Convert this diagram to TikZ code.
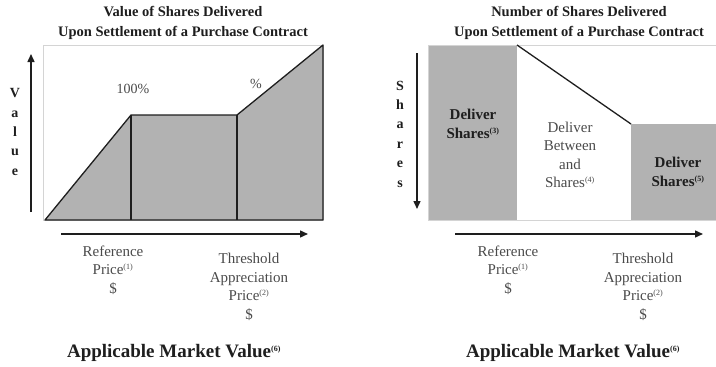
\documentclass[tikz,border=0pt]{standalone}
\usepackage{fontspec}
\setmainfont{Liberation Serif}
\usetikzlibrary{arrows.meta}
\definecolor{areagray}{HTML}{B2B2B2}
\definecolor{txt}{HTML}{4A4A4A}
\definecolor{dark}{HTML}{1E1E1E}
\definecolor{frame}{HTML}{D4D4D4}
\newcommand{\fnote}[1]{\textsuperscript{\fontsize{8}{8}\selectfont(#1)}}
\tikzset{
 title/.style={font=\fontsize{14.5}{20}\selectfont\bfseries, text=dark, align=center, inner sep=0pt},
 lbl/.style={font=\fontsize{15}{18.5}\selectfont, text=txt, align=center, inner sep=0pt},
 blbl/.style={font=\fontsize{15}{18.5}\selectfont\bfseries, text=dark, align=center, inner sep=0pt},
 vert/.style={font=\fontsize{14}{19.4}\selectfont\bfseries, text=dark, align=center, inner sep=0pt},
 axisarrow/.style={-{Triangle[length=8pt,width=7pt]}, line width=1.4pt, draw=dark},
 area/.style={fill=areagray, draw=dark, line width=1.3pt, line join=round},
 edge/.style={draw=dark, line width=1.3pt},
 framebox/.style={draw=frame, line width=0.8pt},
 big/.style={font=\fontsize{19}{22}\selectfont\bfseries, text=dark, inner sep=0pt}
}
\begin{document}
\begin{tikzpicture}[x=1pt,y=-1pt]
\useasboundingbox (0,0) rectangle (716,367);
% ---------- left chart ----------
\draw[framebox] (43,45) rectangle (323,220);
\path[area] (45,220) -- (131,115) -- (237,115) -- (323,45) -- (323,220) -- cycle;
\draw[edge] (131,115) -- (131,220);
\draw[edge] (237,115) -- (237,220);
\coordinate (lvb) at (31,212);
\coordinate (lvt) at (31,54);
\draw[axisarrow] (lvb) -- (lvt);
\node[vert] (lval) at (15,132) {V\\a\\l\\u\\e};
\node[lbl, font=\fontsize{14}{16}\selectfont] (p100) at (133,89) {100\%};
\node[lbl, font=\fontsize{14}{16}\selectfont] (pct) at (256,84) {\%};
\node[title] (ltitle) at (183,23) {Value of Shares Delivered\\Upon Settlement of a Purchase Contract};
\coordinate (lha) at (61,234);
\coordinate (lhb) at (308,234);
\draw[axisarrow] (lha) -- (lhb);
\node[lbl] (lref) at (113,270) {Reference\\Price\fnote{1}\\\$};
\node[lbl] (lthr) at (249,287) {Threshold\\Appreciation\\Price\fnote{2}\\\$};
\node[big] (lamv) at (174,353) {Applicable Market Value\fnote{6}};
% ---------- right chart ----------
\fill[areagray] (428,45) rectangle (517,220);
\fill[areagray] (631,124) rectangle (716,220);
\draw[framebox] (428,220) -- (428,45) -- (716,45);
\draw[framebox] (428,220) -- (716,220);
\draw[edge] (517,45) -- (631,124);
\coordinate (rvt) at (417,53);
\coordinate (rvb) at (417,209);
\draw[axisarrow] (rvt) -- (rvb);
\node[vert] (rsh) at (400,134) {S\\h\\a\\r\\e\\s};
\node[title] (rtitle) at (579,23) {Number of Shares Delivered\\Upon Settlement of a Purchase Contract};
\node[blbl] (d3) at (473,124) {Deliver\\Shares\fnote{3}};
\node[lbl] (d4) at (570,155) {Deliver\\Between\\and\\Shares\fnote{4}};
\node[blbl] (d5) at (678,172) {Deliver\\Shares\fnote{5}};
\coordinate (rha) at (455,234);
\coordinate (rhb) at (703,234);
\draw[axisarrow] (rha) -- (rhb);
\node[lbl] (rref) at (508,270) {Reference\\Price\fnote{1}\\\$};
\node[lbl] (rthr) at (643,287) {Threshold\\Appreciation\\Price\fnote{2}\\\$};
\node[big] (ramv) at (573,353) {Applicable Market Value\fnote{6}};
\end{tikzpicture}
\end{document}
